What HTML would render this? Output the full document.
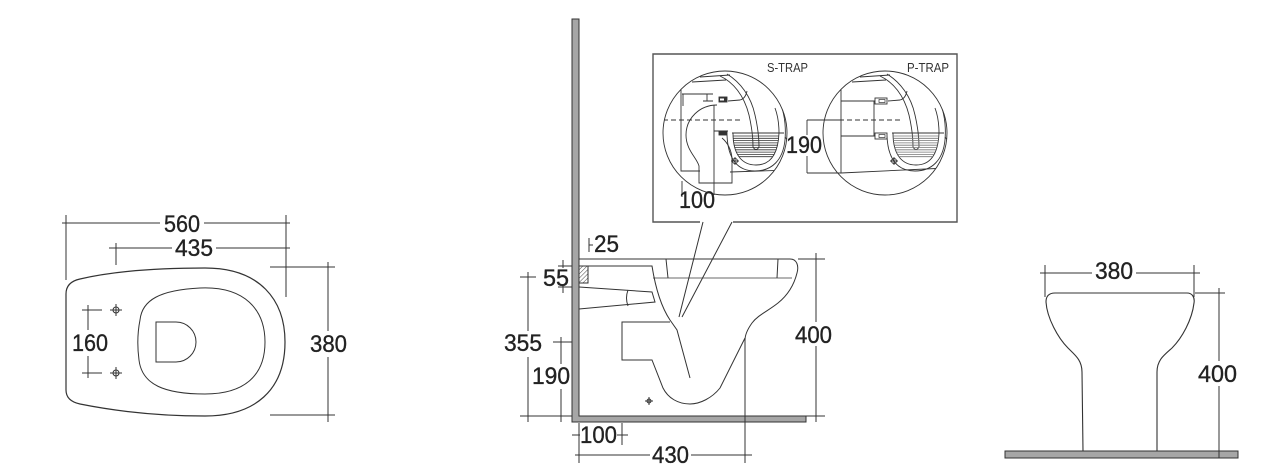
<!DOCTYPE html>
<html><head><meta charset="utf-8"><style>
html,body{margin:0;padding:0;background:#fff;}
svg{display:block;}
text{font-family:"Liberation Sans",Arial,sans-serif;fill:#222;}
.d{font-size:24px;stroke:#222;stroke-width:0.35;}
.s{font-size:12.5px;fill:#333;}
</style></head><body>
<svg width="1280" height="474" viewBox="0 0 1280 474" xmlns="http://www.w3.org/2000/svg">
<defs>
<clipPath id="c1"><circle cx="725" cy="133" r="62"/></clipPath>
<clipPath id="c2"><circle cx="885" cy="133" r="62"/></clipPath>
<clipPath id="w1"><path d="M733,133 C733,156 743,165 756,165 C769,165 778,156 779,133 Z"/></clipPath>
<clipPath id="w2"><path d="M893,133 C893,156 903,165 916,165 C929,165 938,156 939,133 Z"/></clipPath>
<pattern id="hatch" width="3" height="3" patternUnits="userSpaceOnUse" patternTransform="rotate(45)"><line x1="0" y1="0" x2="0" y2="3" stroke="#333" stroke-width="0.9"/></pattern>
</defs>
<rect width="1280" height="474" fill="#fff"/>

<!-- ============ LEFT TOP VIEW ============ -->
<g stroke="#333" stroke-width="1" fill="none">
<path d="M66,294 Q66,282 80,279 C110,272 150,268 205,268 C260,268 285,300 285,342 C285,390 255,416 205,416 C150,416 110,410 80,404 Q66,401 66,390 Z" stroke-width="1.2"/>
<path d="M140,320 C142,300 160,290 200,288 C245,286 265,310 265,342 C265,375 245,394 205,394 C165,394 142,385 139,360 C137,345 138,330 140,320 Z"/>
<path d="M156,322 L176,322 A20,20 0 0 1 176,362 L156,362 Z"/>
<circle cx="116" cy="310" r="3"/><path d="M110,310 H122 M116,304 V316"/>
<circle cx="116" cy="373" r="3"/><path d="M110,373 H122 M116,367 V379"/>
<path d="M62,223 H160 M204,223 H290 M66,215 V280 M286,215 V297"/>
<path d="M109,248 H172 M216,248 H290 M116,243 V265"/>
<path d="M328,262 V331 M328,357 V422 M270,267 H335 M270,415 H335"/>
<path d="M88,305 V330 M88,356 V378 M82,310 H102 M82,373 H102"/>
</g>
<text class="d" x="164" y="232" textLength="36" lengthAdjust="spacingAndGlyphs">560</text>
<text class="d" x="175" y="256" textLength="38" lengthAdjust="spacingAndGlyphs">435</text>
<text class="d" x="72" y="351" textLength="36" lengthAdjust="spacingAndGlyphs">160</text>
<text class="d" x="310" y="352" textLength="37" lengthAdjust="spacingAndGlyphs">380</text>

<!-- ============ MIDDLE SIDE VIEW ============ -->
<path d="M572,19 L579,19 L579,416 L806,416 L806,422 L572,422 Z" fill="#a6a6a6" stroke="#333" stroke-width="1"/>
<g stroke="#333" stroke-width="1" fill="none">
<path d="M579,259 L790,259 C797,259 799,266 797,273 C794,285 788,295 778,303 C768,311 758,315 752,323 C747,330 745,335 745,340"/>
<path d="M653,278 L792,278" stroke="#888" stroke-width="1.3"/>
<path d="M666,259 L668,278 M778,259 L777,278"/>
<path d="M579,266 L652,266 C655,285 660,305 670,320 L677,330 L690,378"/>
<path d="M670,322 L622,322 L622,360 L652,360 L663,388 C668,398 678,404 690,404 C700,404 712,398 720,388 L745,338"/>
<path d="M579,287 L652,292 L655,302 L579,309"/>
<path d="M628,290 Q625,298 628,306"/>
<path d="M745,338 V463"/>
<circle cx="649" cy="401" r="2"/><path d="M645,401 H653 M649,397 V405"/>
<path d="M703,222 L679,317 M732,222 L682,317"/>
<path d="M589,238 V252 M589,245 H593"/>
<path d="M563,260 V268 M563,286 V293 M558,266 H572 M558,287 H572"/>
<path d="M528,272 V331 M528,357 V422 M520,277 H536"/>
<path d="M561,337 V364 M561,389 V422 M553,342 H572"/>
<path d="M520,416 H572"/>
<path d="M579,423 V463 M622,423 V445 M572,435 H580 M617,435 H628"/>
<path d="M575,455 H650 M691,455 H752"/>
<path d="M816,253 V322 M816,346 V422 M798,259 H825 M806,416 H825"/>
</g>
<rect x="579" y="266" width="9" height="17" fill="url(#hatch)" stroke="#333" stroke-width="1"/>
<text class="d" x="594" y="252" textLength="25" lengthAdjust="spacingAndGlyphs">25</text>
<text class="d" x="543" y="286" textLength="26" lengthAdjust="spacingAndGlyphs">55</text>
<text class="d" x="504" y="351" textLength="38" lengthAdjust="spacingAndGlyphs">355</text>
<text class="d" x="532" y="384" textLength="38" lengthAdjust="spacingAndGlyphs">190</text>
<text class="d" x="580" y="443" textLength="37" lengthAdjust="spacingAndGlyphs">100</text>
<text class="d" x="652" y="463" textLength="37" lengthAdjust="spacingAndGlyphs">430</text>
<text class="d" x="795" y="343" textLength="37" lengthAdjust="spacingAndGlyphs">400</text>

<!-- ============ INSET ============ -->
<path d="M700,222 L653,222 L653,54 L957,54 L957,222 L733,222" fill="none" stroke="#555" stroke-width="1.4"/>
<text class="s" x="767" y="72" textLength="41" lengthAdjust="spacingAndGlyphs">S-TRAP</text>
<text class="s" x="907" y="72" textLength="42" lengthAdjust="spacingAndGlyphs">P-TRAP</text>

<!-- left circle S-trap -->
<g stroke="#333" stroke-width="0.9" fill="none">
<g clip-path="url(#c1)">
<path d="M692,82 L726,80 M700,77 L730,75"/>
<path d="M720,76 C733,82 744,95 749,115 C752,128 753,138 753,147"/>
<path d="M727,74 C740,82 751,96 755,115 C758,128 759,138 759,147"/>
<path d="M753,147 Q756,152 759,147"/>
<path d="M728,101 L740,100 C744,99 746,96 747,91"/>
<path d="M682,94 H713 M707,94 V101 M703,101 H713 M683,94 V106"/>
<path d="M681,88 V171 H700"/>
<path d="M717,105 C700,105 686,118 686,135 C686,150 697,158 699,166 L699,183 L732,183 L732,160 C732,150 727,142 722,138"/>
<path d="M714,105 V183 M714,131 H728"/>
<path d="M663,120 H743" stroke-dasharray="5,3"/>
<path d="M732,133 H784"/>
<path d="M727,135 C728,160 738,171 755,171 C772,171 783,160 785,140 C786,128 785,118 782,108"/>
<path d="M733,133 C733,156 743,165 756,165 C769,165 778,156 779,133 C779,124 778,116 775,108"/>
<path d="M785,137 L789,142"/>
<path d="M730,172 L790,170"/>
<circle cx="735" cy="161" r="2.5"/><path d="M731,161 H739 M735,157 V165"/>
</g>
<rect x="719" y="97" width="8" height="5" fill="#333"/>
<rect x="720" y="98.5" width="4" height="2" fill="#fff" stroke="none"/>
<rect x="719" y="131" width="8" height="4" fill="#333"/>
<g clip-path="url(#w1)" stroke-width="0.8">
<path d="M730,136 H782 M730,138.3 H782 M730,140.6 H782 M730,142.9 H782 M730,145.2 H782 M730,147.5 H782 M730,149.8 H782 M730,152.1 H782 M730,154.4 H782 M730,156.7 H782"/>
</g>
<path d="M682,181 V197 M714,183 V195"/>
<circle cx="725" cy="133" r="62"/>
</g>
<text class="d" x="679" y="208" textLength="36" lengthAdjust="spacingAndGlyphs">100</text>

<!-- right circle P-trap -->
<g stroke="#333" stroke-width="0.9" fill="none">
<g clip-path="url(#c2)">
<path d="M852,82 L886,80 M860,77 L890,75"/>
<path d="M880,76 C893,82 904,95 909,115 C912,128 913,138 913,147"/>
<path d="M887,74 C900,82 911,96 915,115 C918,128 919,138 919,147"/>
<path d="M913,147 Q916,152 919,147"/>
<path d="M888,101 L900,100 C904,99 906,96 907,91"/>
<path d="M841,88 V173"/>
<path d="M841,101 H875 M841,136 H875 M874,101 V136"/>
<path d="M823,120 H903" stroke-dasharray="5,3"/>
<path d="M841,173 L947,168"/>
<path d="M892,133 H944"/>
<path d="M887,136 C888,160 898,171 915,171 C932,171 943,160 945,140 C946,128 945,118 942,108"/>
<path d="M893,133 C893,156 903,165 916,165 C929,165 938,156 939,133 C939,124 938,116 935,108"/>
<path d="M945,137 L949,142"/>
<circle cx="894" cy="161" r="2.5"/><path d="M890,161 H898 M894,157 V165"/>
</g>
<rect x="875" y="98" width="12" height="6" fill="#fff" stroke="#333" stroke-width="0.9"/>
<rect x="879" y="99.5" width="6" height="3" fill="#fff" stroke="#333" stroke-width="0.7"/>
<rect x="875" y="133" width="12" height="6" fill="#fff" stroke="#333" stroke-width="0.9"/>
<rect x="879" y="134.5" width="6" height="3" fill="#fff" stroke="#333" stroke-width="0.7"/>
<g clip-path="url(#w2)" stroke-width="0.8" stroke="#777">
<path d="M890,136 H942 M890,138.3 H942 M890,140.6 H942 M890,142.9 H942 M890,145.2 H942 M890,147.5 H942 M890,149.8 H942 M890,152.1 H942 M890,154.4 H942 M890,156.7 H942"/>
</g>
<path d="M807,120 V135 M807,156 V173 M807,120 H841 M807,173 H841"/>
<circle cx="885" cy="133" r="62"/>
</g>
<text class="d" x="786" y="153" textLength="36" lengthAdjust="spacingAndGlyphs">190</text>

<!-- ============ RIGHT FRONT VIEW ============ -->
<rect x="1005" y="451" width="233" height="7" fill="#a6a6a6" stroke="#333" stroke-width="1"/>
<g stroke="#333" stroke-width="1.1" fill="none">
<path d="M1083,451 L1082,372 C1082,360 1075,355 1068,348 C1058,338 1047,318 1046,302 C1046,296 1049,293 1055,293 L1187,293 C1192,293 1195,297 1194,303 C1192,320 1182,338 1172,348 C1164,355 1157,360 1157,372 L1157,451"/>
</g>
<g stroke="#333" stroke-width="1" fill="none">
<path d="M1040,273 H1092 M1136,273 H1200 M1045,265 V297 M1194,265 V297"/>
<path d="M1219,288 V361 M1219,386 V458 M1195,293 H1225"/>
</g>
<text class="d" x="1095" y="279" textLength="38" lengthAdjust="spacingAndGlyphs">380</text>
<text class="d" x="1198" y="382" textLength="39" lengthAdjust="spacingAndGlyphs">400</text>
</svg>
</body></html>
